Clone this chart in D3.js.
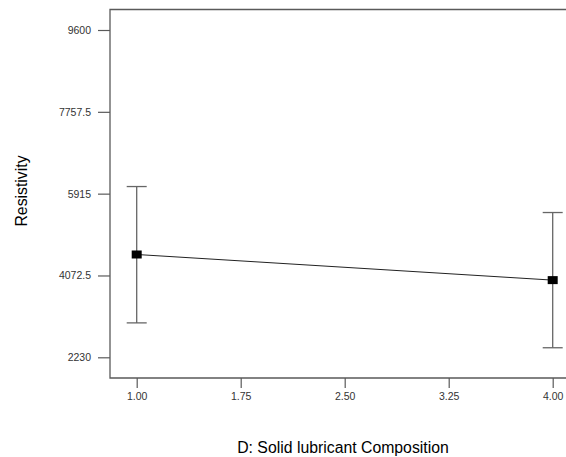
<!DOCTYPE html>
<html>
<head>
<meta charset="utf-8">
<script src="https://cdn.jsdelivr.net/npm/d3@7"></script>
<style>
  body { margin: 0; background: #fff; }
  svg { display: block; }
  text { font-family: Arial, "Liberation Sans", sans-serif; }
</style>
</head>
<body>
<svg id="chart" width="566" height="457"></svg>
<script>
// data
var levels = [1.00, 4.00];
var means = [4545, 3968];
var lower = [3005, 2445];
var upper = [6075, 5490];
var xTicks = [1.00, 1.75, 2.50, 3.25, 4.00];
var yTicks = [2230, 4072.5, 5915, 7757.5, 9600];

var svg = d3.select("#chart");
var frame = { left: 110, top: 9.5, bottom: 378, right: 572 };

var x = d3.scaleLinear().domain([1, 4]).range([136.7, 552.7]);
var y = d3.scaleLinear().domain([2230, 9600]).range([357.3, 30]);

// frame
svg.append("path")
    .attr("d", "M" + frame.right + " " + frame.top + " H" + frame.left + " V" + frame.bottom + " H" + frame.right)
    .attr("fill", "none").attr("stroke", "#5a5a5a").attr("stroke-width", 1.3);

// axes
var yAxis = svg.append("g")
    .attr("transform", "translate(" + frame.left + ",0)")
    .call(d3.axisLeft(y).tickValues(yTicks).tickSize(12).tickPadding(7)
        .tickFormat(function (d) { return String(d); }));
var xAxis = svg.append("g")
    .attr("transform", "translate(0," + frame.bottom + ")")
    .call(d3.axisBottom(x).tickValues(xTicks).tickSize(10).tickPadding(5)
        .tickFormat(d3.format(".2f")));

[yAxis, xAxis].forEach(function (g) {
    g.select(".domain").remove();
    g.selectAll(".tick line").attr("stroke", "#5a5a5a").attr("stroke-width", 1.2);
    g.selectAll(".tick text").attr("fill", "#333").style("font-size", "10.5px");
});

// error bars
var bars = svg.append("g");
levels.forEach(function (lv, i) {
    var cx = x(lv);
    bars.append("line").attr("x1", cx).attr("x2", cx)
        .attr("y1", y(lower[i])).attr("y2", y(upper[i]))
        .attr("stroke", "#666").attr("stroke-width", 1.3);
    [lower[i], upper[i]].forEach(function (v) {
        bars.append("line").attr("x1", cx - 10).attr("x2", cx + 10)
            .attr("y1", y(v)).attr("y2", y(v))
            .attr("stroke", "#666").attr("stroke-width", 1.3);
    });
});

// mean line
var pts = levels.map(function (lv, i) { return [x(lv), y(means[i])]; });
svg.append("path")
    .attr("d", d3.line()(pts))
    .attr("fill", "none").attr("stroke", "#222").attr("stroke-width", 1);

svg.selectAll("rect.pt").data(pts).enter().append("rect")
    .attr("class", "pt")
    .attr("x", function (d) { return d[0] - 5; })
    .attr("y", function (d) { return d[1] - 4; })
    .attr("width", 10).attr("height", 8)
    .attr("fill", "#000");

// titles
svg.append("text")
    .attr("x", 343).attr("y", 453)
    .attr("text-anchor", "middle")
    .style("font-size", "15.8px").attr("fill", "#000")
    .text("D: Solid lubricant Composition");

svg.append("text")
    .attr("transform", "translate(27,191) rotate(-90)")
    .attr("text-anchor", "middle")
    .style("font-size", "15.8px").attr("fill", "#000")
    .text("Resistivity");
</script>
</body>
</html>
